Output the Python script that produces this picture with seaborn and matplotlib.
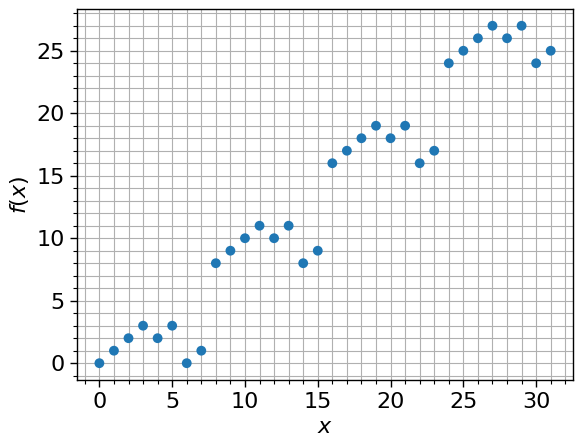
import numpy as np
import pandas as pd
import matplotlib
matplotlib.use("Agg")
import matplotlib.pyplot as plt
from matplotlib.ticker import MultipleLocator
import seaborn as sns

sns.set_style("ticks", rc={'text.color': 'black', 'axes.labelcolor': 'black',
                           'xtick.color': 'black', 'ytick.color': 'black',
                           'axes.edgecolor': 'black'})
plt.rcParams['font.family'] = ['DejaVu Sans']

x_vals = list(range(32))
y_vals = [0, 1, 2, 3, 2, 3, 0, 1,
          8, 9, 10, 11, 10, 11, 8, 9,
          16, 17, 18, 19, 18, 19, 16, 17,
          24, 25, 26, 27, 26, 27, 24, 25]

df = pd.DataFrame({'x': x_vals, 'f': y_vals})

fig, ax = plt.subplots(figsize=(5.82, 4.44), dpi=100)
fig.subplots_adjust(left=0.132, right=0.985, top=0.98, bottom=0.144)
sns.scatterplot(data=df, x='x', y='f', ax=ax, color='#1f77b4', s=50,
                edgecolor='none', zorder=3)
ax.margins(0.05)
ax.xaxis.set_minor_locator(MultipleLocator(1))
ax.yaxis.set_minor_locator(MultipleLocator(1))
ax.grid(which='both', color='#b0b0b0', linewidth=0.8)
ax.set_axisbelow(True)
ax.set_xlabel('$x$', fontsize=16)
ax.set_ylabel('$f(x)$', fontsize=16)
ax.tick_params(axis='both', which='major', labelsize=16, length=5, width=1,
               direction='out', colors='black')
ax.tick_params(axis='both', which='minor', length=3, width=0.8, colors='black')
for sp in ax.spines.values():
    sp.set_visible(True)
    sp.set_color('black')
    sp.set_linewidth(1)

fig.savefig('out.png', dpi=100)
